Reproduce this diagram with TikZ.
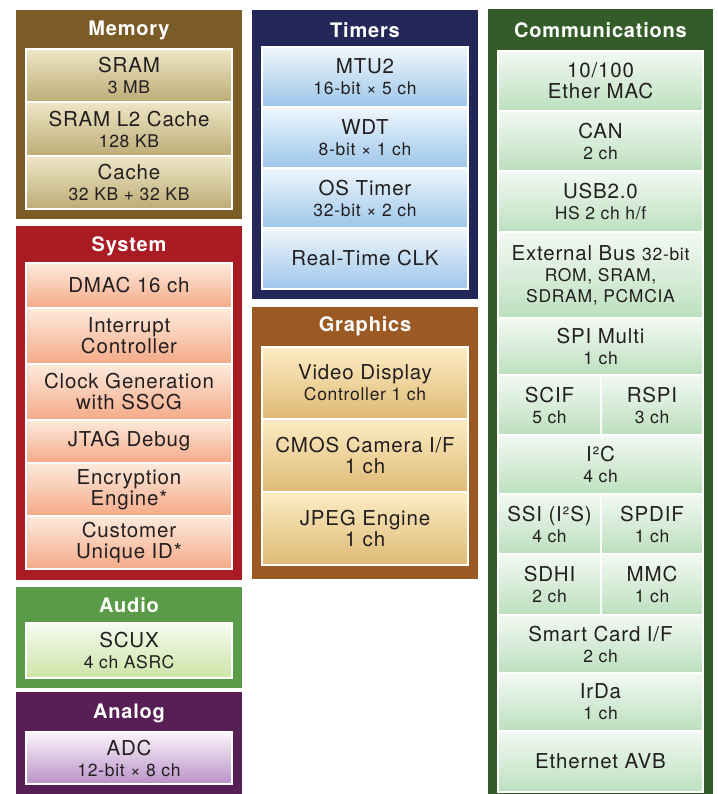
\documentclass[tikz,border=0pt]{standalone}
\usepackage{fontspec}
\setmainfont{TeX Gyre Heros}[LetterSpace=4]
\definecolor{memO}{RGB}{123,91,38}
\definecolor{memT}{RGB}{238,230,198}
\definecolor{memB}{RGB}{188,172,118}
\definecolor{sysO}{RGB}{170,28,36}
\definecolor{sysT}{RGB}{253,234,220}
\definecolor{sysB}{RGB}{245,170,136}
\definecolor{audO}{RGB}{90,155,72}
\definecolor{audT}{RGB}{246,251,240}
\definecolor{audB}{RGB}{204,228,166}
\definecolor{anaO}{RGB}{88,30,86}
\definecolor{anaT}{RGB}{253,244,251}
\definecolor{anaB}{RGB}{184,146,200}
\definecolor{timO}{RGB}{36,40,88}
\definecolor{timT}{RGB}{240,247,252}
\definecolor{timB}{RGB}{156,198,234}
\definecolor{graO}{RGB}{155,90,36}
\definecolor{graT}{RGB}{253,236,196}
\definecolor{graB}{RGB}{222,186,116}
\definecolor{comO}{RGB}{52,92,40}
\definecolor{comT}{RGB}{243,249,243}
\definecolor{comB}{RGB}{188,224,190}
\definecolor{txt}{RGB}{35,31,32}
\newcommand\sm[1]{{\fontsize{17.5}{21}\selectfont #1}}
\newcommand\cellbox[7]{\node[#6, minimum width={(#4-#2)*1pt}, minimum height={(#5-#3)*1pt}, anchor=north west] (#1) at (#2,#3) {#7};}
\tikzset{
  base/.style={inner sep=0pt, outer sep=0pt},
  outerbox/.style={base, draw=none},
  cell/.style={base, draw=white, line width=1.2pt, align=center, text=txt, font=\fontsize{20.5}{21}\selectfont},
  ttl/.style={base, text=white, font=\bfseries\fontsize{20}{21}\selectfont},
  mem/.style={cell, top color=memT, bottom color=memB},
  sys/.style={cell, top color=sysT, bottom color=sysB},
  aud/.style={cell, top color=audT, bottom color=audB},
  ana/.style={cell, top color=anaT, bottom color=anaB},
  tim/.style={cell, top color=timT, bottom color=timB},
  gra/.style={cell, top color=graT, bottom color=graB},
  com/.style={cell, top color=comT, bottom color=comB},
}
\begin{document}
\begin{tikzpicture}[x=1pt,y=-1pt]
\useasboundingbox[fill=white] (0,0) rectangle (717,794);
% Memory
\cellbox{memory}{16}{10}{242}{219}{outerbox, fill=memO}{}
\node[ttl] (memtitle) at (129,30.5) {Memory};
\cellbox{sram}{26}{49}{232}{102}{mem}{SRAM\\\sm{3 MB}}
\cellbox{l2}{26}{102}{232}{156}{mem}{SRAM L2 Cache\\\sm{128 KB}}
\cellbox{cache}{26}{156}{232}{209}{mem}{Cache\\\sm{32 KB + 32 KB}}
% System
\cellbox{system}{16}{226}{242}{580}{outerbox, fill=sysO}{}
\node[ttl] (systitle) at (129,246.5) {System};
\cellbox{dmac}{26}{263}{232}{308}{sys}{DMAC 16 ch}
\cellbox{intc}{26}{308}{232}{364}{sys}{Interrupt\\Controller}
\cellbox{clk}{26}{364}{232}{420}{sys}{Clock Generation\\with SSCG}
\cellbox{jtag}{26}{420}{232}{463}{sys}{JTAG Debug}
\cellbox{enc}{26}{463}{232}{516}{sys}{Encryption\\Engine*}
\cellbox{uid}{26}{516}{232}{569}{sys}{Customer\\Unique ID*}
% Audio
\cellbox{audio}{16}{587}{242}{688}{outerbox, fill=audO}{}
\node[ttl] (audtitle) at (129,605.5) {Audio};
\cellbox{scux}{26}{623}{232}{678}{aud}{SCUX\\\sm{4 ch ASRC}}
% Analog
\cellbox{analog}{16}{692}{242}{794}{outerbox, fill=anaO}{}
\node[ttl] (anatitle) at (129,713.5) {Analog};
\cellbox{adc}{26}{732}{232}{784}{ana}{ADC\\\sm{12-bit × 8 ch}}
% Timers
\cellbox{timers}{252}{10}{478}{299}{outerbox, fill=timO}{}
\node[ttl] (timtitle) at (365,30.5) {Timers};
\cellbox{mtu}{262}{47}{468}{107}{tim}{MTU2\\\sm{16-bit × 5 ch}}
\cellbox{wdt}{262}{107}{468}{168}{tim}{WDT\\\sm{8-bit × 1 ch}}
\cellbox{ost}{262}{168}{468}{228}{tim}{OS Timer\\\sm{32-bit × 2 ch}}
\cellbox{rtc}{262}{228}{468}{289}{tim}{Real-Time CLK}
% Graphics
\cellbox{graphics}{252}{307}{478}{579}{outerbox, fill=graO}{}
\node[ttl] (gratitle) at (365,326.5) {Graphics};
\cellbox{vdc}{262}{347}{468}{419}{gra}{Video Display\\\sm{Controller 1 ch}}
\cellbox{cmos}{262}{419}{468}{492}{gra}{CMOS Camera I/F\\1 ch}
\cellbox{jpeg}{262}{492}{468}{565}{gra}{JPEG Engine\\1 ch}
% Communications
\cellbox{comm}{488}{9}{713}{794}{outerbox, fill=comO}{}
\node[ttl] (comtitle) at (600.5,30.5) {Communications};
\cellbox{ether}{498}{51}{703}{111}{com}{10/100\\Ether MAC}
\cellbox{can}{498}{111}{703}{171}{com}{CAN\\\sm{2 ch}}
\cellbox{usb}{498}{171}{703}{232}{com}{USB2.0\\\sm{HS 2 ch h/f}}
\cellbox{exbus}{498}{232}{703}{318}{com}{External Bus \sm{32-bit}\\\sm{ROM, SRAM,}\\\sm{SDRAM, PCMCIA}}
\cellbox{spi}{498}{318}{703}{375}{com}{SPI Multi\\\sm{1 ch}}
\cellbox{scif}{498}{375}{601}{435}{com}{SCIF\\\sm{5 ch}}
\cellbox{rspi}{601}{375}{703}{435}{com}{RSPI\\\sm{3 ch}}
\cellbox{iic}{498}{435}{703}{494}{com}{I²C\\\sm{4 ch}}
\cellbox{ssi}{498}{494}{601}{554}{com}{SSI (I²S)\\\sm{4 ch}}
\cellbox{spdif}{601}{494}{703}{554}{com}{SPDIF\\\sm{1 ch}}
\cellbox{sdhi}{498}{554}{601}{615}{com}{SDHI\\\sm{2 ch}}
\cellbox{mmc}{601}{554}{703}{615}{com}{MMC\\\sm{1 ch}}
\cellbox{smart}{498}{615}{703}{673}{com}{Smart Card I/F\\\sm{2 ch}}
\cellbox{irda}{498}{673}{703}{731}{com}{IrDa\\\sm{1 ch}}
\cellbox{avb}{498}{731}{703}{792}{com}{Ethernet AVB}
\end{tikzpicture}
\end{document}
